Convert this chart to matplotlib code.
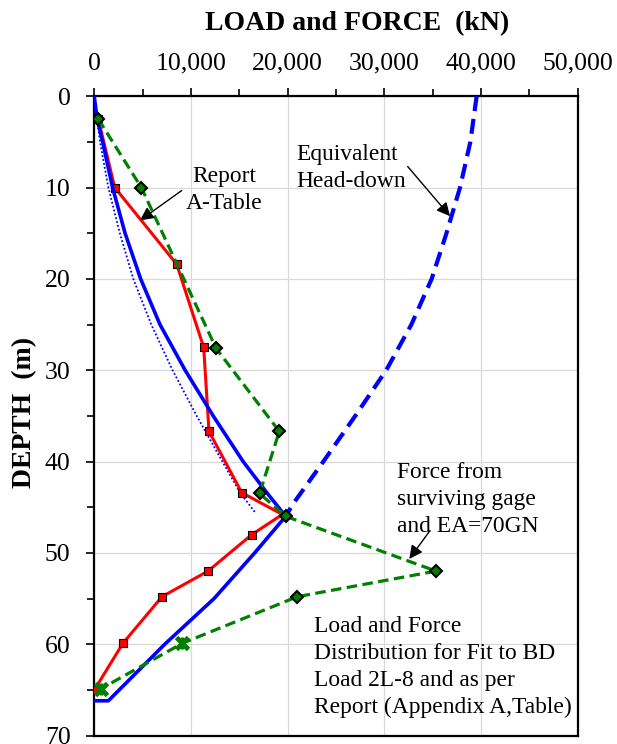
import matplotlib
matplotlib.use("Agg")
import matplotlib.pyplot as plt
from matplotlib.ticker import MultipleLocator, FuncFormatter

plt.rcParams['font.family'] = ['Liberation Serif', 'DejaVu Serif']

# ---------------- data ----------------
# Report A-Table (red, squares)
red_depth = [2.5, 10.0, 18.4, 27.5, 36.7, 43.4, 45.8, 48.0, 52.0, 54.8, 59.9, 65.0]
red_load = [420, 2120, 8530, 11320, 11870, 15250, 19450, 16300, 11770, 7010, 2970, 20]

# Force from gages (green dashed, diamonds + star at the toe)
gage_depth = [2.5, 10.0, 27.6, 36.7, 43.5, 46.0, 52.0, 54.8, 59.9, 64.9]
gage_load = [420, 4870, 12600, 19140, 17100, 19800, 35350, 21000, 9120, 670]

# Fit to BD load (blue solid)
fit_depth = [0, 2.5, 5, 10, 15, 20, 25, 30, 35, 40, 43.4, 46.0, 50, 55, 60, 66.2, 66.2]
fit_load = [0, 300, 870, 1900, 3190, 4800, 6800, 9400, 12300, 15400, 17840, 19800,
            16600, 12400, 7300, 1460, 80]

# Thin dotted blue
dot_depth = [0, 5, 10, 15, 20, 25, 30, 35, 40, 43.4, 45.7]
dot_load = [0, 600, 1460, 2650, 4040, 5900, 8100, 10600, 13250, 15080, 16730]

# Equivalent head-down (blue dashed)
hd_depth = [0, 5, 10, 15, 20, 25, 30, 35, 40, 44.6, 46.0]
hd_load = [39550, 38900, 37830, 36430, 34900, 32800, 30200, 27000, 23700, 20590, 19800]

x_ticks = [0, 10000, 20000, 30000, 40000, 50000]
y_ticks = [0, 10, 20, 30, 40, 50, 60, 70]

# ---------------- figure ----------------
fig = plt.figure(figsize=(6.17, 7.44), dpi=100)
ax = fig.add_axes([0.1527, 0.01142, 0.7836, 0.8593])

ax.set_xlim(0, 50000)
ax.set_ylim(70, 0)

ax.plot(hd_load, hd_depth, color='#0000ff', lw=3.0, dashes=(3.6, 1.9), zorder=3)
ax.plot(dot_load, dot_depth, color='#0000ff', lw=1.3, linestyle=(0, (1, 1.2)), zorder=3)
ax.plot(red_load, red_depth, color='#ff0000', lw=2.2, marker='s', ms=6,
        mfc='#ff0000', mec='black', mew=0.8,
        markevery=[0, 1, 2, 3, 4, 5, 7, 8, 9, 10, 11], zorder=4)
ax.plot(fit_load, fit_depth, color='#0000ff', lw=2.6, zorder=4)
ax.plot(gage_load, gage_depth, color='#008000', lw=2.3, dashes=(3.3, 1.7), zorder=5)
ax.plot(gage_load[:8], gage_depth[:8], linestyle='none', marker='D', ms=6.5,
        mfc='#008000', mec='black', mew=1.5, zorder=6)
ax.plot(gage_load[8:], gage_depth[8:], linestyle='none', marker='x', ms=9,
        mec='#008000', mew=3.5, zorder=6)
ax.plot(gage_load[8:], gage_depth[8:], linestyle='none', marker='|', ms=9,
        mec='#008000', mew=2.5, zorder=6)

# axes styling
ax.xaxis.tick_top()
ax.xaxis.set_label_position('top')
ax.set_xticks(x_ticks)
ax.set_yticks(y_ticks)
ax.xaxis.set_minor_locator(MultipleLocator(5000))
ax.yaxis.set_minor_locator(MultipleLocator(5))
ax.xaxis.set_major_formatter(FuncFormatter(lambda v, p: f"{int(v):,}"))
ax.yaxis.set_major_formatter(FuncFormatter(lambda v, p: f"{int(v)}"))
ax.tick_params(axis='both', which='major', direction='out', length=6, width=1.2,
               labelsize=18.5, pad=11, color='black')
ax.tick_params(axis='x', which='major', pad=9.5)
ax.tick_params(axis='both', which='minor', direction='out', length=5, width=1.2,
               color='black')
ax.tick_params(axis='y', which='both', right=False)
ax.tick_params(axis='x', which='both', bottom=False)
ax.grid(True, which='major', color='#d9d9d9', lw=0.9, zorder=0)
ax.set_axisbelow(True)
for s in ax.spines.values():
    s.set_linewidth(1.6)
    s.set_color('black')

fig.text(357 / 617, 1 - 24 / 744, "LOAD and FORCE  (kN)", ha='center', va='center',
         fontsize=20, fontweight='bold')
fig.text(25 / 617, 1 - 412 / 744, "DEPTH  (m)", ha='center', va='center',
         rotation=90, fontsize=20, fontweight='bold')

# annotations (va='baseline' aligns the last line's baseline)
fs = 16.9
ls = 1.37
arrow = dict(arrowstyle='-|>', color='black', lw=1.0, mutation_scale=20,
             shrinkA=0, shrinkB=0)
ax.text(13423, 12.3, "Report\nA-Table", ha='center', va='baseline', fontsize=fs,
        linespacing=ls, zorder=7)
ax.annotate("", xy=(4736, 13.6), xytext=(9048, 10.33), arrowprops=arrow, zorder=7)
ax.text(20941, 9.89, "Equivalent\nHead-down", ha='left', va='baseline',
        fontsize=fs, linespacing=ls, zorder=7)
ax.annotate("", xy=(36794, 13.14), xytext=(32420, 7.70), arrowprops=arrow, zorder=7)
ax.text(31282, 47.67, "Force from\nsurviving gage\nand EA=70GN", ha='left', va='baseline',
        fontsize=fs, linespacing=ls, zorder=7)
ax.annotate("", xy=(32585, 50.67), xytext=(34726, 47.56), arrowprops=arrow, zorder=7)
ax.text(22730, 67.58,
        "Load and Force\nDistribution for Fit to BD\nLoad 2L-8 and as per\nReport (Appendix A,Table)",
        ha='left', va='baseline', fontsize=fs, linespacing=ls, zorder=7)

fig.savefig("out.png", dpi=100)
